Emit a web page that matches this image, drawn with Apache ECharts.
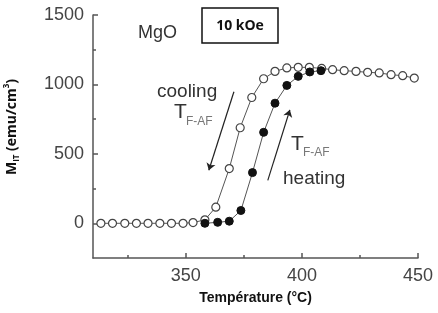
<!DOCTYPE html>
<html style="height: 100%">
<head>
	<meta charset="utf-8">
	<script src="https://cdn.jsdelivr.net/npm/echarts@6/dist/echarts.min.js"></script>
</head>
<body style="height: 100%; margin: 0; background: #fff">
	<div id="container" style="width: 438px; height: 313px"></div>
	<script type="text/javascript">
		// cooling (open circles)
		let coolT = [313.4, 318.4, 323.7, 328.7, 333.7, 338.8, 343.8, 348.8, 353.1, 358.2, 362.9, 368.7, 373.4, 378.4,
			383.5, 388.4, 393.5, 398.4, 403.2, 408.5, 413.2, 418.2, 423.3, 428.3, 433.3, 438.4, 443.4, 448.4];
		let coolM = [0, 0, 0, 0, 0, 0, 0, 0, 5, 25, 116, 394, 688, 906,
			1041, 1094, 1119, 1123, 1123, 1115, 1106, 1099, 1094, 1087, 1083, 1070, 1063, 1046];
		// heating (filled circles)
		let heatT = [358.2, 363.7, 368.7, 373.7, 378.7, 383.5, 388.4, 393.5, 398.4, 403.4, 408.2];
		let heatM = [0, 7, 15, 92, 365, 655, 865, 993, 1058, 1090, 1099];

		let xLabels = [350, 400, 450];
		let xMinor = [325, 375, 425];
		let yLabels = [0, 500, 1000, 1500];
		let yMinor = [250, 750, 1250];

		let dom = document.getElementById("container");
		let myChart = echarts.init(dom);

		function pairs(xs, ys) {
			let out = [];
			for (let i = 0; i < xs.length; i++) out.push([xs[i], ys[i]]);
			return out;
		}

		let axisColor = '#555';
		let numFont = 'Liberation Sans';

		let option = {
			animation: false,
			backgroundColor: '#fff',
			grid: { left: 93, right: 20, top: 15, bottom: 55 },
			xAxis: [
				{
					type: 'value', min: 310, max: 450,
					name: 'Température (°C)', nameLocation: 'middle', nameGap: 33,
					nameTextStyle: { fontFamily: 'Liberation Sans', fontWeight: 'bold', fontSize: 14, color: '#111' },
					splitLine: { show: false },
					axisLine: { onZero: false, lineStyle: { color: axisColor, width: 1.5 } },
					axisTick: { inside: true, length: 5, customValues: xLabels, lineStyle: { color: axisColor, width: 1.5 } },
					axisLabel: { customValues: xLabels, margin: 9, fontFamily: numFont, fontSize: 18, color: '#444',
						formatter: function (v) { return String(v); } }
				},
				{
					type: 'value', min: 310, max: 450, position: 'bottom',
					splitLine: { show: false },
					axisLine: { show: false, onZero: false },
					axisTick: { inside: true, length: 3, customValues: xMinor, lineStyle: { color: axisColor, width: 1.5 } },
					axisLabel: { show: false }
				}
			],
			yAxis: [
				{
					type: 'value', min: -250, max: 1500,
					splitLine: { show: false },
					axisLine: { show: true, onZero: false, lineStyle: { color: axisColor, width: 1.5 } },
					axisTick: { show: true, inside: true, length: 5, customValues: yLabels, lineStyle: { color: axisColor, width: 1.5 } },
					axisLabel: { customValues: yLabels, margin: 9, fontFamily: numFont, fontSize: 18, color: '#444',
						formatter: function (v) { return String(v); } }
				},
				{
					type: 'value', min: -250, max: 1500, position: 'left',
					splitLine: { show: false },
					axisLine: { show: false, onZero: false },
					axisTick: { show: true, inside: true, length: 3, customValues: yMinor, lineStyle: { color: axisColor, width: 1.5 } },
					axisLabel: { show: false }
				}
			],
			series: [
				{
					name: 'cooling',
					type: 'line',
					data: pairs(coolT, coolM),
					symbol: 'circle',
					symbolSize: 8,
					itemStyle: { color: '#fff', borderColor: '#444', borderWidth: 1.2 },
					lineStyle: { color: '#555', width: 1 },
					markLine: {
						silent: true,
						symbol: ['none', 'arrow'],
						symbolSize: 7,
						label: { show: false },
						lineStyle: { color: '#222', width: 1.2, type: 'solid' },
						data: [
							[{ coord: [370.7, 947] }, { coord: [359.9, 382] }],
							[{ coord: [385.3, 309] }, { coord: [394.8, 817] }]
						]
					}
				},
				{
					name: 'heating',
					type: 'line',
					data: pairs(heatT, heatM),
					symbol: 'circle',
					symbolSize: 8,
					itemStyle: { color: '#111', borderColor: '#111' },
					lineStyle: { color: '#555', width: 1 }
				}
			],
			graphic: [
				{
					type: 'text', left: 138, top: 24,
					style: { text: 'MgO', font: '18px Liberation Sans', fill: '#333' }
				},
				{
					type: 'rect', shape: { x: 202, y: 8, width: 76, height: 35 },
					style: { fill: '#fff', stroke: '#111', lineWidth: 1.5 }
				},
				{
					type: 'text', x: 240, y: 26,
					style: { text: '10 kOe', font: 'bold 14px Open Sans', fill: '#111', textAlign: 'center', textVerticalAlign: 'middle' }
				},
				{
					type: 'text', left: 157, top: 82,
					style: { text: 'cooling', font: '19px Liberation Sans', fill: '#333' }
				},
				{
					type: 'text', left: 174, top: 102,
					style: { text: 'T', font: '21px Liberation Sans', fill: '#333' }
				},
				{
					type: 'text', left: 186, top: 116,
					style: { text: 'F-AF', font: '12px Liberation Sans', fill: '#777' }
				},
				{
					type: 'text', left: 291, top: 134,
					style: { text: 'T', font: '21px Liberation Sans', fill: '#333' }
				},
				{
					type: 'text', left: 303, top: 147,
					style: { text: 'F-AF', font: '12px Liberation Sans', fill: '#777' }
				},
				{
					type: 'text', left: 283, top: 169,
					style: { text: 'heating', font: '19px Liberation Sans', fill: '#333' }
				},
				{
					type: 'text', x: 12, y: 127, rotation: Math.PI / 2,
					style: {
						text: '{b|M}{s|IT}{b| (emu/cm}{p|3}{b|)}',
						textAlign: 'center', textVerticalAlign: 'middle',
						rich: {
							b: { fontFamily: 'Open Sans', fontWeight: 'bold', fontSize: 14, fill: '#111', lineHeight: 18, verticalAlign: 'middle' },
							s: { fontFamily: 'Open Sans', fontWeight: 'bold', fontSize: 8, fill: '#111', lineHeight: 18, verticalAlign: 'bottom' },
							p: { fontFamily: 'Open Sans', fontWeight: 'bold', fontSize: 8, fill: '#111', lineHeight: 18, verticalAlign: 'top' }
						}
					}
				}
			]
		};

		myChart.setOption(option);
	</script>
</body>
</html>
